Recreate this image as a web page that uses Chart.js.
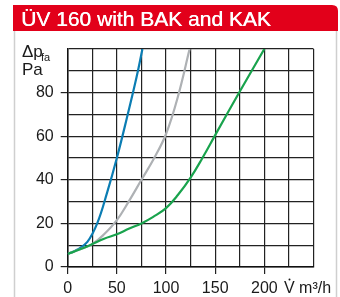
<!DOCTYPE html>
<html>
<head>
<meta charset="utf-8">
<script src="https://cdn.jsdelivr.net/npm/chart.js@4"></script>
<style>
  html, body { margin: 0; padding: 0; background: #fff; }
  #wrap { width: 340px; height: 297px; position: relative; }
</style>
</head>
<body>
<div id="wrap"><canvas id="chart" width="340" height="297"></canvas></div>
<script>
// curves: flow V (m3/h) against pressure drop (Pa)
const blueX  = [0, 10, 20, 30, 40, 50, 60, 70, 76];
const blueY  = [6, 8, 11.5, 20, 34, 50, 68, 87, 100];
const grayX  = [0, 12, 25, 37, 50, 62, 75, 88, 100, 112, 124];
const grayY  = [6, 8, 10.5, 15, 21.5, 30, 40, 50, 61, 78, 100];
const greenX = [0, 12, 25, 37, 50, 62, 75, 87, 100, 112, 125, 137, 150, 175, 200];
const greenY = [6, 8, 10.5, 13, 15, 17.5, 20, 23, 27, 33, 41, 50, 60.5, 80.5, 100];

const xLabels = [0, 50, 100, 150, 200];
const yLabels = [0, 20, 40, 60, 80];

const toPoints = (xs, ys) => xs.map((x, i) => ({ x: x, y: ys[i] }));

const FONT = "'Liberation Sans', Arial, sans-serif";

// red title bar, side borders and the axis captions
const decor = {
    id: 'decor',
    beforeDraw(chart) {
        const ctx = chart.ctx;
        ctx.save();
        ctx.fillStyle = '#fff';
        ctx.fillRect(0, 0, chart.width, chart.height);
        // frame
        ctx.strokeStyle = '#cfcfcf';
        ctx.lineWidth = 1.5;
        ctx.beginPath();
        ctx.moveTo(14.5, 30); ctx.lineTo(14.5, 297);
        ctx.moveTo(336.5, 30); ctx.lineTo(336.5, 297);
        ctx.stroke();
        // title bar
        ctx.fillStyle = '#e2001a';
        ctx.beginPath();
        ctx.moveTo(13, 5);
        ctx.lineTo(332, 5);
        ctx.quadraticCurveTo(338, 5, 338, 11);
        ctx.lineTo(338, 31);
        ctx.lineTo(13, 31);
        ctx.closePath();
        ctx.fill();
        ctx.fillStyle = '#fff';
        ctx.font = '21px ' + FONT;
        ctx.textBaseline = 'alphabetic';
        ctx.fillText('ÜV 160 with BAK and KAK', 21, 26);
        ctx.fillText('ÜV 160 with BAK and KAK', 21.4, 26);
        ctx.restore();
    },
    afterDraw(chart) {
        const ctx = chart.ctx;
        ctx.save();
        ctx.fillStyle = '#1a1a1a';
        ctx.textBaseline = 'alphabetic';
        ctx.font = '17px ' + FONT;
        ctx.fillText('\u0394p', 22, 57);
        ctx.font = '11px ' + FONT;
        ctx.fillText('fa', 41, 61);
        ctx.font = '17px ' + FONT;
        ctx.fillText('Pa', 22, 75);
        ctx.font = '16px ' + FONT;
        ctx.fillText('V m\u00b3/h', 284, 293);
        // dot over the V
        ctx.beginPath();
        ctx.arc(289.5, 279.5, 1, 0, Math.PI * 2);
        ctx.fill();
        ctx.restore();
    }
};

new Chart(document.getElementById('chart'), {
    type: 'line',
    data: {
        datasets: [
            { data: toPoints(greenX, greenY), borderColor: '#19a34d' },
            { data: toPoints(grayX, grayY), borderColor: '#aeb1b4' },
            { data: toPoints(blueX, blueY), borderColor: '#0b7db3' }
        ]
    },
    options: {
        responsive: false,
        animation: false,
        layout: { padding: { left: 17.7, right: 26.5, top: 49, bottom: 0 } },
        elements: {
            point: { radius: 0 },
            line: { borderWidth: 2.2, tension: 0.4, fill: false }
        },
        plugins: { legend: { display: false }, tooltip: { enabled: false } },
        scales: {
            x: {
                type: 'linear', min: 0, max: 250,
                afterFit: (s) => { s.height = 30; },
                border: { color: '#111', width: 1.5 },
                grid: {
                    color: '#222', lineWidth: 1.2, tickLength: 7,
                    tickColor: (c) => xLabels.includes(c.tick.value) ? '#222' : 'rgba(0,0,0,0)'
                },
                ticks: {
                    stepSize: 25, maxRotation: 0, autoSkip: false, padding: 5,
                    color: '#1a1a1a', font: { family: FONT, size: 16 },
                    callback: (v) => xLabels.includes(v) ? String(v) : ''
                }
            },
            y: {
                min: 0, max: 100,
                afterFit: (s) => { s.width = 50; },
                border: { color: '#111', width: 1.5 },
                grid: {
                    color: '#222', lineWidth: 1.2, tickLength: 7,
                    tickColor: (c) => yLabels.includes(c.tick.value) ? '#222' : 'rgba(0,0,0,0)'
                },
                ticks: {
                    stepSize: 10, autoSkip: false, padding: 7,
                    color: '#1a1a1a', font: { family: FONT, size: 16 },
                    callback: (v) => yLabels.includes(v) ? String(v) : ''
                }
            }
        }
    },
    plugins: [decor]
});
</script>
</body>
</html>
